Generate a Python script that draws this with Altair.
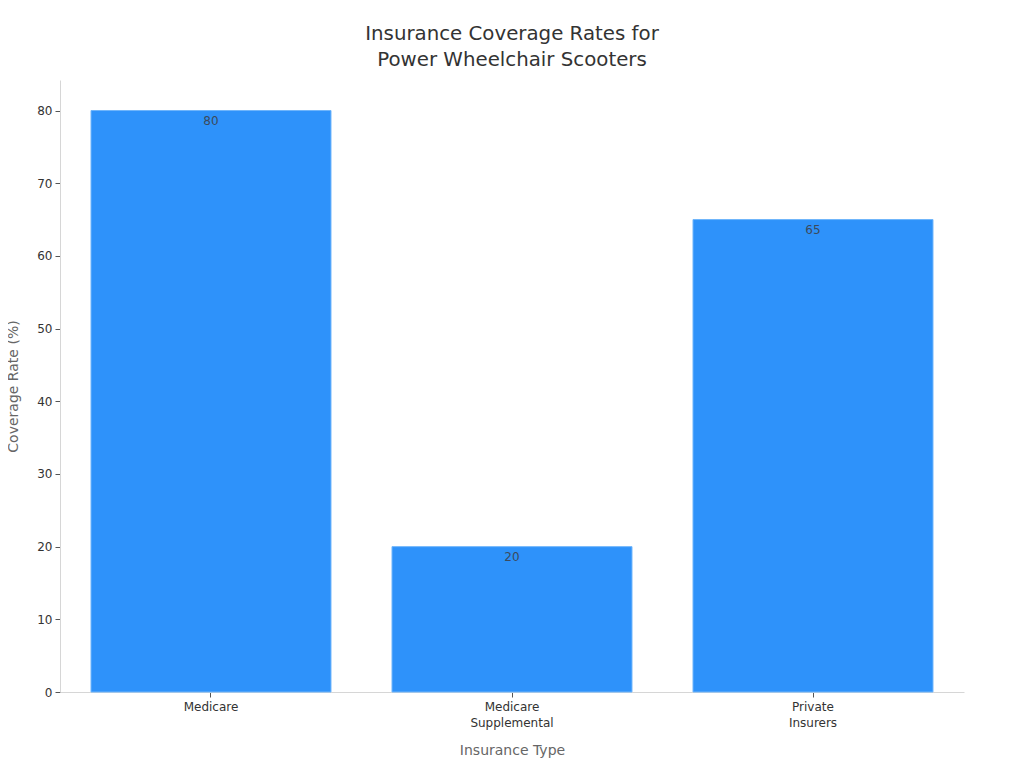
"""Insurance coverage rates bar chart."""

import pandas as pd
import altair as alt

FONT = 'DejaVu Sans'

categories = ['Medicare', 'Medicare\nSupplemental', 'Private\nInsurers']
coverage = [80, 20, 65]
y_ticks = [0, 10, 20, 30, 40, 50, 60, 70, 80]

df = pd.DataFrame({'insurance': categories, 'coverage': coverage})

base = alt.Chart(df).encode(
    x=alt.X(
        'insurance:N',
        sort=categories,
        title='Insurance Type',
        scale=alt.Scale(paddingInner=0.2027, paddingOuter=0.103),
        axis=alt.Axis(
            labelAngle=0,
            labelExpr="split(datum.label, '\\n')",
            labelFont=FONT,
            labelFontSize=12,
            labelColor='#333333',
            labelLineHeight=16,
            labelPadding=4,
            tickColor='#555555',
            tickSize=5,
            domainColor='#d6d6d6',
            titleFont=FONT,
            titleFontSize=14,
            titleFontWeight='normal',
            titleColor='#666666',
            titlePadding=15,
            grid=False,
        ),
    ),
    y=alt.Y(
        'coverage:Q',
        title='Coverage Rate (%)',
        scale=alt.Scale(domain=[0, 84.2], nice=False),
        axis=alt.Axis(
            values=y_ticks,
            labelFont=FONT,
            labelFontSize=12,
            labelColor='#333333',
            labelPadding=3,
            tickColor='#555555',
            tickSize=5,
            domainColor='#d6d6d6',
            titleFont=FONT,
            titleFontSize=14,
            titleFontWeight='normal',
            titleColor='#666666',
            titlePadding=16,
            grid=False,
        ),
    ),
)

bars = base.mark_bar(color='#2e92fa', stroke='#6fb5fb', strokeWidth=1)
labels = base.mark_text(
    baseline='middle', dy=10, font=FONT, fontSize=12, color='#3c4a5c'
).encode(text=alt.Text('coverage:Q'))

chart = (
    (bars + labels)
    .properties(
        width=904,
        height=612,
        padding={'left': 52, 'top': 72, 'right': 40, 'bottom': 70},
        autosize=alt.AutoSizeParams(type='none'),
        title=alt.TitleParams(
            text=['Insurance Coverage Rates for', 'Power Wheelchair Scooters'],
            font=FONT,
            fontSize=19.8,
            fontWeight='normal',
            color='#333333',
            lineHeight=26,
            anchor='middle',
            offset=10,
        ),
    )
    .configure_view(stroke=None)
)

chart.save("out.html", embed_options={"renderer": "svg", "actions": False})
